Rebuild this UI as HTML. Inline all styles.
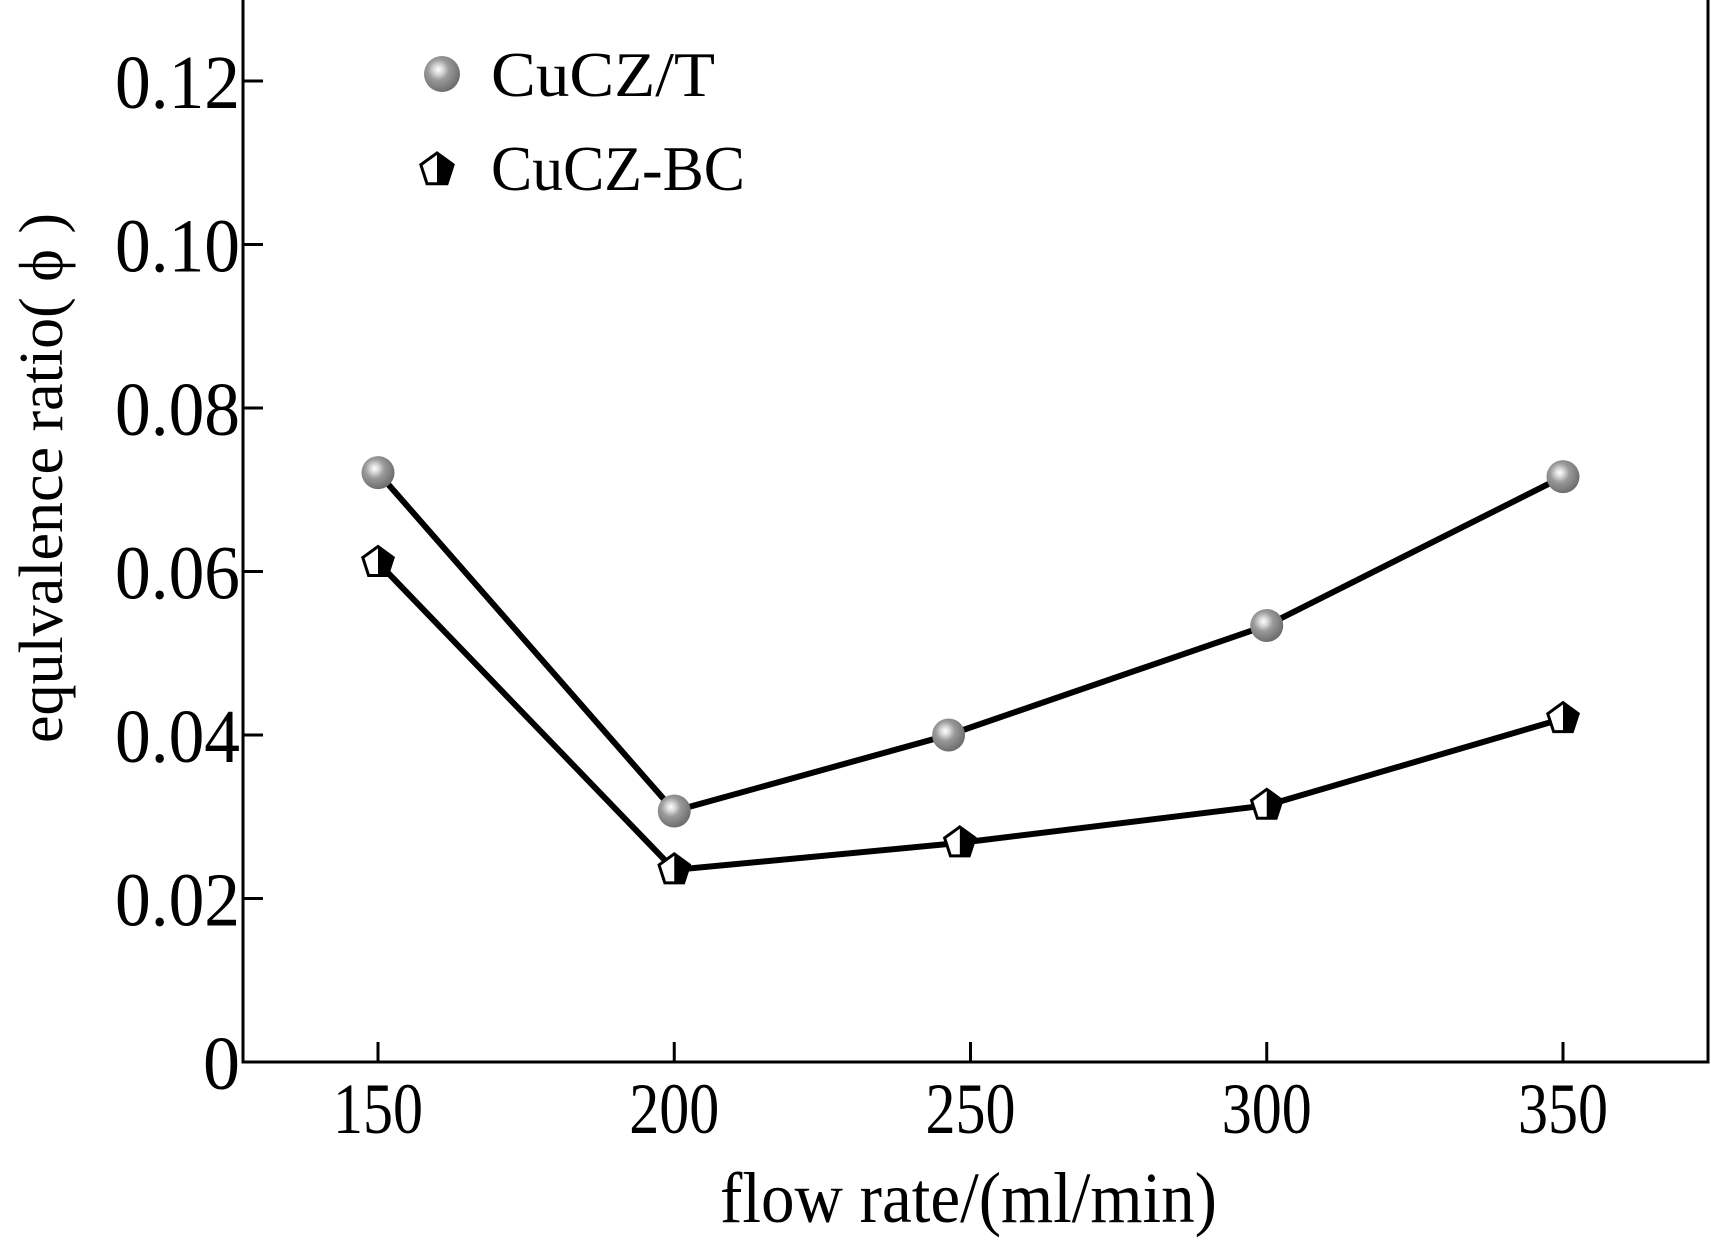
<!DOCTYPE html>
<html><head><meta charset="utf-8"><style>
html,body{margin:0;padding:0;background:#fff;}
svg{display:block;font-family:"Liberation Serif","Times New Roman",serif;}
</style></head><body>
<svg id="chart" width="1711" height="1246" viewBox="0 0 1711 1246" xmlns="http://www.w3.org/2000/svg">
<defs>
<radialGradient id="sph" cx="0.4" cy="0.38" r="0.65">
<stop offset="0" stop-color="#ffffff"/>
<stop offset="0.2" stop-color="#d8d8d8"/>
<stop offset="0.45" stop-color="#9a9a9a"/>
<stop offset="1" stop-color="#6a6a6a"/>
</radialGradient>
</defs>
<g id="axes"></g>
<g id="series"></g>
<g id="legend"></g>
</svg>
<script>
const xCats = [150, 200, 250, 300, 350];
const yTicks = [0, 0.02, 0.04, 0.06, 0.08, 0.10, 0.12];
const yTickLabels = ["0", "0.02", "0.04", "0.06", "0.08", "0.10", "0.12"];
const xT = [150, 200, 246.3, 300, 350];
const yT = [0.0721, 0.0307, 0.0400, 0.0534, 0.0716];
const xBC = [150, 200, 248.2, 300, 350];
const yBC = [0.0611, 0.0235, 0.0268, 0.0314, 0.0420];

const NS = "http://www.w3.org/2000/svg";
const L = 243, R = 1708, B = 1062, T = 0;
function sx(v){ return 378 + (v - 150) * (1563 - 378) / 200; }
function sy(v){ return 1062 - v * (1062 - 81) / 0.12; }
function mk(tag, attrs, parent){
  const e = document.createElementNS(NS, tag);
  for (const k in attrs) e.setAttribute(k, attrs[k]);
  parent.appendChild(e); return e;
}
const axes = document.getElementById('axes');
const series = document.getElementById('series');
const legend = document.getElementById('legend');

let el = mk('path', {d:`M${L},${T} V${B} H${R} V${T}`, fill:'none', stroke:'#000', 'stroke-width':3}, axes);



yTicks.forEach((v, i) => {
  const y = sy(v);
  let t = mk('line', {x1:L, x2:L+20, y1:y, y2:y, stroke:'#000', 'stroke-width':3}, axes);
  
  
  const s = yTickLabels[i];
  const digits = s.replace('.', '').length, dots = s.length - digits;
  let tx = mk('text', {x:240, y:y+27, 'text-anchor':'end', 'font-size':76, textLength:digits*37+dots*14, lengthAdjust:'spacingAndGlyphs'}, axes);
  tx.textContent = s;
  
  
});
xCats.forEach(v => {
  const x = sx(v);
  let t = mk('line', {x1:x, x2:x, y1:B, y2:B-20, stroke:'#000', 'stroke-width':3}, axes);
  
  
  let tx = mk('text', {x:x, y:1133, 'text-anchor':'middle', 'font-size':72, textLength:90, lengthAdjust:'spacingAndGlyphs'}, axes);
  tx.textContent = String(v);
  
  
});
let xt = mk('text', {x:720, y:1222, 'font-size':72, textLength:497, lengthAdjust:'spacingAndGlyphs'}, axes);
xt.textContent = 'flow rate/(ml/min)';


let yt = mk('text', {x:0, y:0, 'font-size':62, 'text-anchor':'middle', transform:'translate(62,478) rotate(-90)', textLength:530, lengthAdjust:'spacingAndGlyphs'}, axes);
yt.textContent = 'equlvalence ratio( \u03D5 )';



function pent(cx, cy, r, parent, name){
  const g = mk('g', {}, parent);
  
  
  const pts = [];
  for (let k = 0; k < 5; k++){ const a = -Math.PI/2 + k*2*Math.PI/5; pts.push([cx + r*Math.cos(a), cy + r*Math.sin(a)]); }
  mk('polygon', {points: pts.map(p=>p.join(',')).join(' '), fill:'#fff', stroke:'#000', 'stroke-width':3}, g);
  mk('polygon', {points: `${cx},${cy-r} ${pts[1].join(',')} ${pts[2].join(',')} ${cx},${pts[2][1]}`, fill:'#000'}, g);
  return g;
}
function sphere(cx, cy, r, parent, name){
  const c = mk('circle', {cx, cy, r, fill:'url(#sph)'}, parent);
  
  
}

let l1 = mk('polyline', {points: xT.map((x,i)=>`${sx(x)},${sy(yT[i])}`).join(' '), fill:'none', stroke:'#000', 'stroke-width':6}, series);


let l2 = mk('polyline', {points: xBC.map((x,i)=>`${sx(x)},${sy(yBC[i])}`).join(' '), fill:'none', stroke:'#000', 'stroke-width':6}, series);


xT.forEach((x,i) => sphere(sx(x), sy(yT[i]), 16.5, series, 'point-cucz-t'));
xBC.forEach((x,i) => pent(sx(x), sy(yBC[i]), 16, series, 'point-cucz-bc'));

sphere(442, 74, 18, legend, 'legend-marker-cucz-t');
let lt1 = mk('text', {x:491, y:96, 'font-size':64, textLength:224, lengthAdjust:'spacingAndGlyphs'}, legend);
lt1.textContent = 'CuCZ/T';


pent(437, 170, 17, legend, 'legend-marker-cucz-bc');
let lt2 = mk('text', {x:491, y:190, 'font-size':64, textLength:254, lengthAdjust:'spacingAndGlyphs'}, legend);
lt2.textContent = 'CuCZ-BC';


</script>
</body></html>
